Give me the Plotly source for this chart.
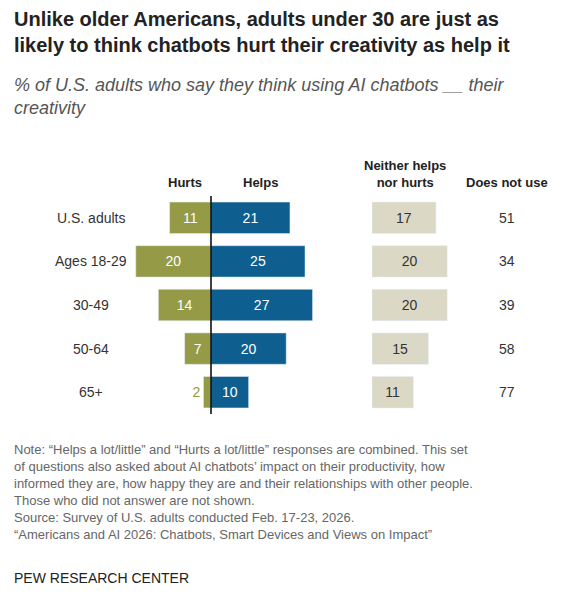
import plotly.graph_objects as go

groups = ["U.S. adults", "Ages 18-29", "30-49", "50-64", "65+"]
hurts = [11, 20, 14, 7, 2]
helps = [21, 25, 27, 20, 10]
neither = [17, 20, 20, 15, 11]
not_use = [51, 34, 39, 58, 77]

W, H = 561, 600
O = 8  # page offset
PX = 3.76
ZERO = 211 - O
OLIVE = "#949a45"
BLUE = "#0e5f8f"
BEIGE = "#dcd8c6"
FONT = "Liberation Sans, Arial, sans-serif"

def px(x):
    return (x - O) / W

def py(y):
    return 1 - (y - O) / H

fig = go.Figure()
fig.add_trace(go.Bar(
    y=groups, x=[-v for v in hurts], orientation="h", marker_color=OLIVE,
    text=[str(v) for v in hurts],
    textposition=["inside" if v > 4 else "outside" for v in hurts],
    insidetextanchor="middle",
    textfont=dict(color=["white" if v > 4 else OLIVE for v in hurts], size=14),
    width=0.72, cliponaxis=False, hoverinfo="skip"))
fig.add_trace(go.Bar(
    y=groups, x=helps, orientation="h", marker_color=BLUE,
    text=[str(v) for v in helps], textposition="inside", insidetextanchor="middle",
    textfont=dict(color="white", size=14), width=0.72, hoverinfo="skip"))
fig.add_trace(go.Bar(
    y=groups, x=neither, orientation="h", marker_color=BEIGE, xaxis="x2",
    text=[str(v) for v in neither], textposition="inside", insidetextanchor="middle",
    textfont=dict(color="#333", size=14), width=0.72, hoverinfo="skip"))

ann = []
for g, v in zip(groups, not_use):
    ann.append(dict(x=px(507), xref="paper", y=g, yref="y", text=str(v), showarrow=False,
                    font=dict(size=14, color="#333"), xanchor="center"))
    ann.append(dict(x=px(91), xref="paper", y=g, yref="y", text=g, showarrow=False,
                    font=dict(size=14, color="#333"), xanchor="center"))
for x, t in [(185, "Hurts"), (260, "Helps"), (405, "Neither helps<br>nor hurts"), (507, "Does not use")]:
    ann.append(dict(x=px(x), y=py(192), xref="paper", yref="paper", text="<b>" + t + "</b>",
                    showarrow=False, xanchor="center", yanchor="bottom",
                    font=dict(size=13, color="#222")))
ann.append(dict(x=px(12), y=py(6), xref="paper", yref="paper", xanchor="left", yanchor="top",
                align="left", showarrow=False,
                text="<b>Unlike older Americans, adults under 30 are just as<br>likely to think chatbots hurt their creativity as help it</b>",
                font=dict(size=20, color="#222")))
ann.append(dict(x=px(12), y=py(73), xref="paper", yref="paper", xanchor="left", yanchor="top",
                align="left", showarrow=False,
                text="<i>% of U.S. adults who say they think using AI chatbots __ their<br>creativity</i>",
                font=dict(size=18, color="#555")))
ann.append(dict(x=px(12), y=py(440), xref="paper", yref="paper", xanchor="left", yanchor="top",
                align="left", showarrow=False,
                text=("Note: “Helps a lot/little” and “Hurts a lot/little” responses are combined. This set<br>"
                      "of questions also asked about AI chatbots’ impact on their productivity, how<br>"
                      "informed they are, how happy they are and their relationships with other people.<br>"
                      "Those who did not answer are not shown.<br>"
                      "Source: Survey of U.S. adults conducted Feb. 17-23, 2026.<br>"
                      "“Americans and AI 2026: Chatbots, Smart Devices and Views on Impact”"),
                font=dict(size=13, color="#666")))
ann.append(dict(x=px(12), y=py(568), xref="paper", yref="paper", xanchor="left", yanchor="top",
                showarrow=False, text="PEW RESEARCH CENTER", font=dict(size=14, color="#222")))

fig.add_shape(type="line", xref="x", yref="paper", x0=0, x1=0, y0=py(414), y1=py(196),
              line=dict(color="black", width=1.5))

fig.update_layout(
    width=W, height=H, margin=dict(l=0, r=0, t=0, b=0),
    paper_bgcolor="white", plot_bgcolor="white", showlegend=False,
    barmode="overlay", font=dict(family=FONT),
    xaxis=dict(domain=[0, 1], range=[-ZERO / PX, (W - ZERO) / PX], visible=False, fixedrange=True),
    xaxis2=dict(domain=[px(372), 1], range=[0, (W - 372 + O) / PX], visible=False, anchor="y"),
    yaxis=dict(domain=[py(414), py(196)], autorange="reversed", visible=False,
               categoryorder="array", categoryarray=groups),
    annotations=ann,
)
fig.write_html("out.html")
